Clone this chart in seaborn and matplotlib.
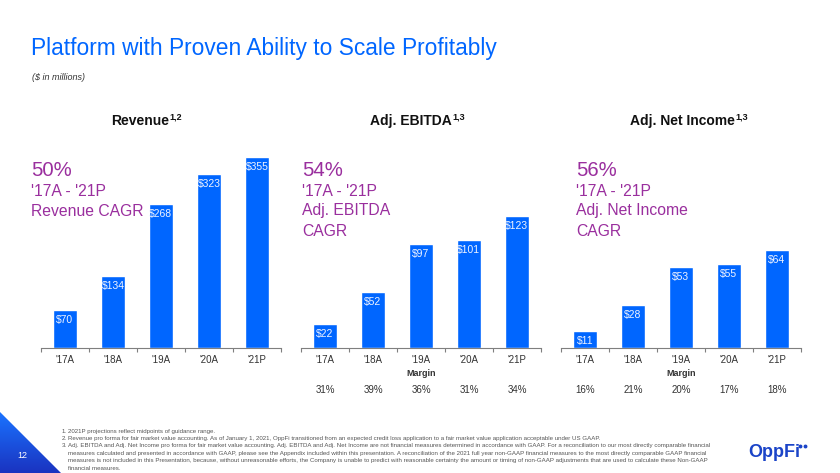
import numpy as np
import pandas as pd
import seaborn as sns
import matplotlib.pyplot as plt
from matplotlib.patches import Polygon
from matplotlib.colors import LinearSegmentedColormap
import matplotlib.transforms as mtrans

# data ($ in millions)
years = ["'17A", "'18A", "'19A", "'20A", "'21P"]
revenue = [70, 134, 268, 323, 355]
ebitda = [22, 52, 97, 101, 123]
net_income = [11, 28, 53, 55, 64]
ebitda_margin = ["31%", "39%", "36%", "31%", "34%"]
ni_margin = ["16%", "21%", "20%", "17%", "18%"]

panel_titles = ["Revenue", "Adj. EBITDA", "Adj. Net Income"]
panel_sups = ["1,2", "1,3", "1,3"]
cagr = ["50%", "54%", "56%"]
cagr_lines = [["'17A - '21P", "Revenue CAGR"],
              ["'17A - '21P", "Adj. EBITDA", "CAGR"],
              ["'17A - '21P", "Adj. Net Income", "CAGR"]]

footnotes = [
    ("1.", "2021P projections reflect midpoints of guidance range."),
    ("2.", "Revenue pro forma for fair market value accounting. As of January 1, 2021, OppFi transitioned from an expected credit loss application to a fair market value application acceptable under US GAAP."),
    ("3.", "Adj. EBITDA and Adj. Net Income pro forma for fair market value accounting. Adj. EBITDA and Adj. Net Income are not financial measures determined in accordance with GAAP. For a reconciliation to our most directly comparable financial"),
    ("", "measures calculated and presented in accordance with GAAP, please see the Appendix included within this presentation. A reconciliation of the 2021 full year non-GAAP financial measures to the most directly comparable GAAP financial"),
    ("", "measures is not included in this Presentation, because, without unreasonable efforts, the Company is unable to predict with reasonable certainty the amount or timing of non-GAAP adjustments that are used to calculate these Non-GAAP"),
    ("", "financial measures."),
]

BLUE = "#0066FF"
PURPLE = "#9A2F9E"

sns.set_theme(style="white")
plt.rcParams['font.family'] = ['Liberation Sans', 'DejaVu Sans']

W, H = 840, 473
fig = plt.figure(figsize=(8.4, 4.73), dpi=100)
fx = lambda px: px / W
fy = lambda py: 1 - py / H
renderer = fig.canvas.get_renderer()

# title
fig.text(fx(31), fy(48), "Platform with Proven Ability to Scale Profitably",
         fontsize=16.4, color=BLUE, va='center')
fig.text(fx(32), fy(77), "($ in millions)", fontsize=6.5, style='italic',
         color='#333333', va='center')

series = [revenue, ebitda, net_income]
ymaxs = [368, 184.5, 129.3]
lefts = [41, 301, 561]
title_x = [146, 417, 689]
text_x = [31, 302, 576]
margins = [None, ebitda_margin, ni_margin]

for k in range(3):
    ax = fig.add_axes([fx(lefts[k]), fy(348), 240 / W, 198 / H])
    df = pd.DataFrame({'year': years, 'value': series[k]})
    sns.barplot(data=df, x='year', y='value', color=BLUE, saturation=1,
                width=0.5, ax=ax)
    ax.set_xlim(-0.5, 4.5)
    ax.set_ylim(0, ymaxs[k])
    ax.set_xlabel('')
    ax.set_ylabel('')
    ax.set_yticks([])
    for s in ['top', 'left', 'right']:
        ax.spines[s].set_visible(False)
    ax.spines['bottom'].set_color('#7f7f7f')
    ax.spines['bottom'].set_linewidth(0.8)
    ax.set_xticks(range(5))
    ax.set_xticklabels(years)
    ax.set_xticks(np.arange(-0.5, 5, 1), minor=True)
    ax.tick_params(axis='x', which='major', length=0, labelsize=7,
                   labelcolor='#333333', pad=5)
    ax.tick_params(axis='x', which='minor', length=3, width=0.8,
                   color='#7f7f7f', bottom=True)
    for i, v in enumerate(series[k]):
        ax.annotate(f"${v}", (i, v), xytext=(0, -7.2), textcoords='offset points',
                    ha='center', va='center', fontsize=7.5, color='#F0F4FF')
    if margins[k] is not None:
        tr = mtrans.blended_transform_factory(ax.transData, ax.transAxes)
        ax.text(2, -0.131, "Margin", transform=tr, ha='center', va='center',
                fontsize=6.5, fontweight='bold', color='#333333')
        for i, m in enumerate(margins[k]):
            ax.text(i, -0.212, m, transform=tr, ha='center', va='center',
                    fontsize=7, color='#333333')

    # panel title with superscript
    t1 = fig.text(0, fy(121), panel_titles[k], fontsize=10, fontweight='bold',
                  va='center', color='#111111')
    t2 = fig.text(0, fy(117), panel_sups[k], fontsize=6.5, fontweight='bold',
                  va='center', color='#111111')
    w1 = t1.get_window_extent(renderer).width
    w2 = t2.get_window_extent(renderer).width
    x0 = title_x[k] - (w1 + w2) / 2
    t1.set_x(fx(x0))
    t2.set_x(fx(x0 + w1 + 0.5))

    fig.text(fx(text_x[k]), fy(170), cagr[k], fontsize=14.7, color=PURPLE,
             va='center')
    for j, line in enumerate(cagr_lines[k]):
        fig.text(fx(text_x[k]), fy(191 + 20 * j), line, fontsize=11.3,
                 color=PURPLE, va='center')

# footnotes
for j, (num, txt) in enumerate(footnotes):
    yy = fy(431 + 7.4 * j)
    if num:
        fig.text(fx(62), yy, num, fontsize=4.4, color='#555555', va='center')
    fig.text(fx(68), yy, txt, fontsize=4.4, color='#555555', va='center')

# page corner triangle with gradient
bg = fig.add_axes([0, 0, 1, 1], zorder=-1)
bg.set_xlim(0, W)
bg.set_ylim(H, 0)
bg.axis('off')
grad = np.linspace(0, 1, 100).reshape(-1, 1)
cmap = LinearSegmentedColormap.from_list('tri', ['#1a73ff', '#1a33c0'])
im = bg.imshow(grad, cmap=cmap, extent=[0, 61, 473, 412], aspect='auto')
tri = Polygon([[0, 412], [0, 473], [61, 473]], closed=True,
              transform=bg.transData, facecolor='none', edgecolor='none')
bg.add_patch(tri)
im.set_clip_path(tri)
fig.text(fx(22), fy(455), "12", fontsize=6.5, color='white', va='center',
         ha='center')

# logo
fig.text(fx(748), fy(452), "OppFi", fontsize=13, fontweight='bold',
         color='#1B44C8', va='center')
bg.plot([800, 805], [446, 446], 'o', color='#1B44C8', markersize=1.8)

fig.savefig('out.png', dpi=100)
